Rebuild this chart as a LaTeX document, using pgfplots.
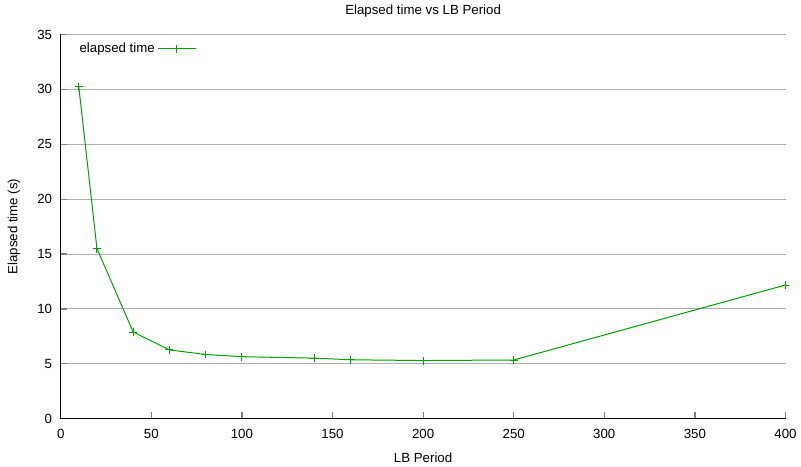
\documentclass[border=0pt]{standalone}
\usepackage{fontspec}
\setmainfont{Liberation Sans}
\usepackage{pgfplots}
\pgfplotsset{compat=1.18}
\definecolor{gpgreen}{RGB}{0,160,0}
\definecolor{gridgray}{RGB}{175,175,175}
\begin{document}
\begin{tikzpicture}
\begin{axis}[
    scale only axis,
    width=546pt, height=289.5pt,
    xmin=0, xmax=400, ymin=0, ymax=35,
    xtick={0,50,...,400},
    ytick={0,5,...,35},
    axis x line*=bottom, axis y line*=left,
    x axis line style={-, black, line width=0.9pt},
    y axis line style={-, black, line width=0.9pt},
    tick style={gray, line width=0.9pt},
    tick align=inside,
    major tick length=5pt,
    ymajorgrids,
    grid style={gridgray, line width=0.7pt},
    font=\fontsize{10}{12}\selectfont,
    ticklabel style={font=\fontsize{10}{12}\selectfont},
    xticklabel style={yshift=-4pt},
    yticklabel style={xshift=-3pt},
    /pgf/number format/assume math mode=true,
    xlabel={LB Period}, ylabel={Elapsed time (s)},
    xlabel style={at={(axis description cs:0.5,-0.101)}, anchor=center, inner ysep=3pt},
    ylabel style={at={(axis description cs:-0.0646,0.5)}, anchor=center, inner ysep=5.8pt},
    title={Elapsed time vs LB Period},
    every axis title shift=0pt,
    title style={at={(axis description cs:0.5,1.062)}, anchor=center},
    legend plot pos=right,
    legend style={draw=none, fill=none, at={(axis description cs:0.0165,0.992)},
        anchor=north west, font=\fontsize{10}{12}\selectfont},
    legend image code/.code={\draw[mark repeat=2,mark phase=2]
        plot coordinates {(0.22cm,0cm) (0.72cm,0cm) (1.22cm,0cm)};},
    clip=false,
]
\addplot[gpgreen, line width=0.75pt, mark=+, mark size=3pt,
    mark options={line width=0.7pt}] coordinates {
    (10,30.22)
    (20,15.5)
    (40,7.9)
    (60,6.27)
    (80,5.85)
    (100,5.65)
    (140,5.52)
    (160,5.37)
    (200,5.3)
    (250,5.35)
    (400,12.18)
};
\addlegendentry{elapsed time}
\end{axis}
\end{tikzpicture}
\end{document}
